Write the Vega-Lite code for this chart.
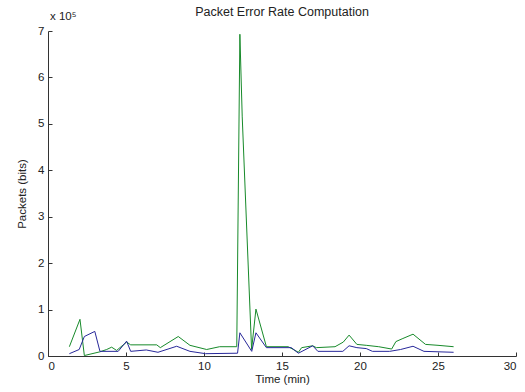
{
  "$schema": "https://vega.github.io/schema/vega-lite/v6.json",
  "width": 468,
  "height": 325,
  "autosize": {"type": "none"},
  "padding": {"left": 48, "top": 31, "right": 9, "bottom": 36},
  "background": "white",
  "config": {
    "font": "Liberation Sans",
    "view": {"stroke": null},
    "axis": {"grid": false, "domainColor": "#333333", "tickColor": "#333333", "labelColor": "#222222", "titleColor": "#222222", "labelFont": "Liberation Sans", "titleFont": "Liberation Sans", "labelFontSize": 11.5, "titleFontSize": 11.5, "titleFontWeight": "normal"}
  },
  "title": {"text": "Packet Error Rate Computation", "fontSize": 12.5, "fontWeight": "normal", "font": "Liberation Sans", "color": "#222222", "offset": -7},
  "datasets": {
    "series": [
      {"t": 1.37, "v": 20000, "s": "green"},
      {"t": 2.05, "v": 79000, "s": "green"},
      {"t": 2.33, "v": 1000, "s": "green"},
      {"t": 3.33, "v": 9000, "s": "green"},
      {"t": 3.76, "v": 14000, "s": "green"},
      {"t": 4.08, "v": 19000, "s": "green"},
      {"t": 4.4, "v": 12000, "s": "green"},
      {"t": 5.04, "v": 30000, "s": "green"},
      {"t": 5.3, "v": 24000, "s": "green"},
      {"t": 6.97, "v": 24000, "s": "green"},
      {"t": 7.2, "v": 18000, "s": "green"},
      {"t": 8.35, "v": 42000, "s": "green"},
      {"t": 9.1, "v": 23000, "s": "green"},
      {"t": 10.17, "v": 14000, "s": "green"},
      {"t": 11.0, "v": 20000, "s": "green"},
      {"t": 12.1, "v": 20000, "s": "green"},
      {"t": 12.3, "v": 693000, "s": "green"},
      {"t": 12.45, "v": 515000, "s": "green"},
      {"t": 13.05, "v": 14000, "s": "green"},
      {"t": 13.33, "v": 101000, "s": "green"},
      {"t": 14.0, "v": 20000, "s": "green"},
      {"t": 15.4, "v": 20000, "s": "green"},
      {"t": 16.05, "v": 8000, "s": "green"},
      {"t": 16.26, "v": 18000, "s": "green"},
      {"t": 16.97, "v": 22000, "s": "green"},
      {"t": 17.2, "v": 18000, "s": "green"},
      {"t": 18.4, "v": 20000, "s": "green"},
      {"t": 18.93, "v": 30000, "s": "green"},
      {"t": 19.3, "v": 45000, "s": "green"},
      {"t": 19.8, "v": 25000, "s": "green"},
      {"t": 20.4, "v": 23000, "s": "green"},
      {"t": 21.2, "v": 20000, "s": "green"},
      {"t": 22.03, "v": 15000, "s": "green"},
      {"t": 22.3, "v": 31000, "s": "green"},
      {"t": 22.7, "v": 37000, "s": "green"},
      {"t": 23.4, "v": 47000, "s": "green"},
      {"t": 24.2, "v": 25000, "s": "green"},
      {"t": 25.0, "v": 23000, "s": "green"},
      {"t": 26.0, "v": 20000, "s": "green"},
      {"t": 1.37, "v": 5000, "s": "blue"},
      {"t": 2.0, "v": 14000, "s": "blue"},
      {"t": 2.33, "v": 42000, "s": "blue"},
      {"t": 3.0, "v": 53000, "s": "blue"},
      {"t": 3.33, "v": 10000, "s": "blue"},
      {"t": 4.5, "v": 10000, "s": "blue"},
      {"t": 5.04, "v": 32000, "s": "blue"},
      {"t": 5.3, "v": 10000, "s": "blue"},
      {"t": 6.3, "v": 13000, "s": "blue"},
      {"t": 7.05, "v": 8000, "s": "blue"},
      {"t": 8.25, "v": 21000, "s": "blue"},
      {"t": 9.1, "v": 10000, "s": "blue"},
      {"t": 10.1, "v": 5000, "s": "blue"},
      {"t": 12.15, "v": 6000, "s": "blue"},
      {"t": 12.3, "v": 50000, "s": "blue"},
      {"t": 13.06, "v": 10000, "s": "blue"},
      {"t": 13.33, "v": 50000, "s": "blue"},
      {"t": 14.0, "v": 18000, "s": "blue"},
      {"t": 15.6, "v": 18000, "s": "blue"},
      {"t": 16.05, "v": 6000, "s": "blue"},
      {"t": 16.97, "v": 22000, "s": "blue"},
      {"t": 17.3, "v": 10000, "s": "blue"},
      {"t": 18.9, "v": 10000, "s": "blue"},
      {"t": 19.3, "v": 22000, "s": "blue"},
      {"t": 19.8, "v": 18000, "s": "blue"},
      {"t": 20.4, "v": 16000, "s": "blue"},
      {"t": 20.8, "v": 10000, "s": "blue"},
      {"t": 21.9, "v": 10000, "s": "blue"},
      {"t": 22.6, "v": 14000, "s": "blue"},
      {"t": 23.4, "v": 21000, "s": "blue"},
      {"t": 24.1, "v": 10000, "s": "blue"},
      {"t": 26.0, "v": 8000, "s": "blue"}
    ],
    "exponent": [{"t": 0, "v": 700000, "label": "x 10⁵"}]
  },
  "layer": [
    {
      "data": {"name": "series"},
      "mark": {"type": "line", "strokeWidth": 1, "clip": true},
      "encoding": {
        "x": {"field": "t", "type": "quantitative", "scale": {"domain": [0, 30], "nice": false}, "axis": {"title": "Time (min)", "values": [0, 5, 10, 15, 20, 25, 30], "tickSize": -4, "labelPadding": 8, "titlePadding": 2}},
        "y": {"field": "v", "type": "quantitative", "scale": {"domain": [0, 700000], "nice": false}, "axis": {"title": "Packets (bits)", "values": [0, 100000, 200000, 300000, 400000, 500000, 600000, 700000], "labelExpr": "datum.value / 100000", "tickSize": -4, "labelPadding": 8, "titlePadding": 10}},
        "color": {"field": "s", "type": "nominal", "scale": {"domain": ["green", "blue"], "range": ["#178a2a", "#28289a"]}, "legend": null},
        "order": {"field": "t", "type": "quantitative"}
      }
    },
    {
      "data": {"name": "exponent"},
      "mark": {"type": "text", "align": "left", "baseline": "alphabetic", "dx": 2, "dy": -11, "fontSize": 11.5, "font": "Liberation Sans", "color": "#222222"},
      "encoding": {
        "x": {"field": "t", "type": "quantitative"},
        "y": {"field": "v", "type": "quantitative"},
        "text": {"field": "label"}
      }
    }
  ]
}
